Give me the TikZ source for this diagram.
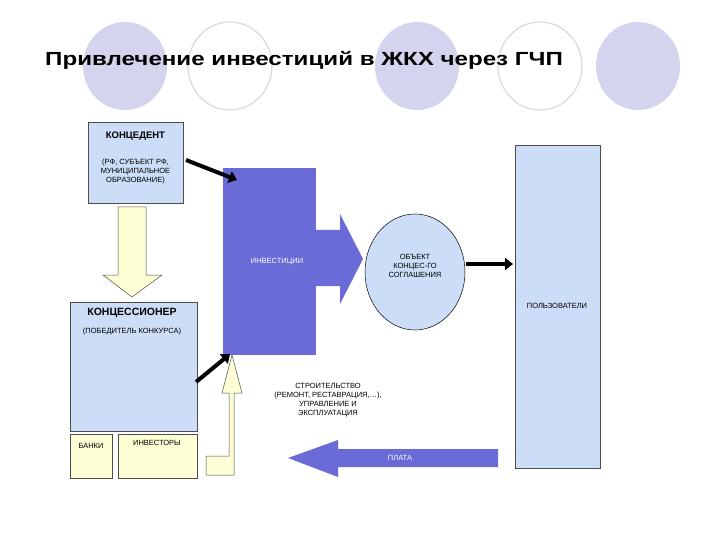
\documentclass[tikz,border=0pt]{standalone}
\usepackage{fontspec}
\setmainfont{Liberation Sans}
\usetikzlibrary{shapes.geometric,arrows.meta}
\definecolor{lav}{HTML}{D4D4EE}
\definecolor{lblue}{HTML}{CCDDF7}
\definecolor{purp}{HTML}{6B6BD8}
\definecolor{lyel}{HTML}{FFFFD6}
\tikzset{
  box/.style={draw=black!70, fill=lblue, line width=0.5pt},
  ybox/.style={draw=black!70, fill=lyel, line width=0.5pt},
  small/.style={font=\fontsize{7.5}{9}\selectfont, align=center},
  blk/.style={line width=4pt, -{Triangle[length=8pt,width=12pt]}},
}
\begin{document}
\begin{tikzpicture}[x=1pt,y=-1pt]
\useasboundingbox (0,0) rectangle (720,540);
% decorative circles
\fill[lav] (125,66) ellipse (42 and 44);
\draw[black!15, line width=1.2pt] (230,66) ellipse (42 and 44);
\fill[lav] (417,66) ellipse (42 and 44);
\draw[black!15, line width=1.2pt] (540,66) ellipse (42 and 44);
\fill[lav] (638,66) ellipse (42 and 44);
\node[anchor=west, inner sep=0pt, font=\bfseries\fontsize{19}{21}\selectfont] (title) at (45,60) {\scalebox{1.27}[1]{Привлечение инвестиций в ЖКХ через ГЧП}};
% концедент
\draw[box] (88,122) rectangle (183,203);
\node[font=\bfseries\fontsize{9.5}{10}\selectfont] (ktext) at (135.5,136) {КОНЦЕДЕНТ};
\node[small] (ksub) at (135.5,172) {(РФ, СУБЪЕКТ РФ,\\МУНИЦИПАЛЬНОЕ\\ОБРАЗОВАНИЕ)};
% yellow down arrow
\draw[ybox] (118,207) -- (146,207) -- (146,275) -- (162,275) -- (132,297) -- (103,275) -- (118,275) -- cycle;
% концессионер
\draw[box] (70,302) rectangle (197,431);
\node[font=\bfseries\fontsize{10.5}{11}\selectfont] (kon) at (132,313) {КОНЦЕССИОНЕР};
\node[small] (konsub) at (132,332) {(ПОБЕДИТЕЛЬ КОНКУРСА)};
\draw[ybox] (70,434) rectangle (112,478);
\node[small] (banki) at (91,446) {БАНКИ};
\draw[ybox] (118,434) rectangle (197,478);
\node[small] (inv) at (157,443) {ИНВЕСТОРЫ};
% investment block
\fill[purp] (223,168) rectangle (316,355);
\fill[purp] (315,230) -- (340,230) -- (340,214) -- (363,259) -- (340,304) -- (340,286) -- (315,286) -- cycle;
\node[small, text=white] (invest) at (277,262) {ИНВЕСТИЦИИ};
% object ellipse
\draw[fill=lblue, line width=0.5pt] (415,272) ellipse (50 and 58);
\node[small] (obj) at (415,266) {ОБЪЕКТ\\КОНЦЕС-ГО\\СОГЛАШЕНИЯ};
% users
\draw[box] (515,145) rectangle (600,468);
\node[small] (users) at (557,306) {ПОЛЬЗОВАТЕЛИ};
% black arrows
\draw[blk] (186,160) -- (237,180);
\draw[blk] (196,382) -- (230,354);
\draw[blk] (466,264) -- (513,264);
% yellow up arrow
\draw[ybox] (206,475) -- (234,475) -- (234,393) -- (242,393) -- (232,355) -- (222,393) -- (229,393) -- (229,456) -- (206,456) -- cycle;
% construction text
\node[small] (constr) at (328,400) {СТРОИТЕЛЬСТВО\\(РЕМОНТ, РЕСТАВРАЦИЯ,…),\\УПРАВЛЕНИЕ И\\ЭКСПЛУАТАЦИЯ};
% плата arrow
\fill[purp] (498,449) -- (338,449) -- (338,440) -- (288,458) -- (338,477) -- (338,467) -- (498,467) -- cycle;
\node[small, text=white] (plata) at (400,458) {ПЛАТА};
\end{tikzpicture}
\end{document}
